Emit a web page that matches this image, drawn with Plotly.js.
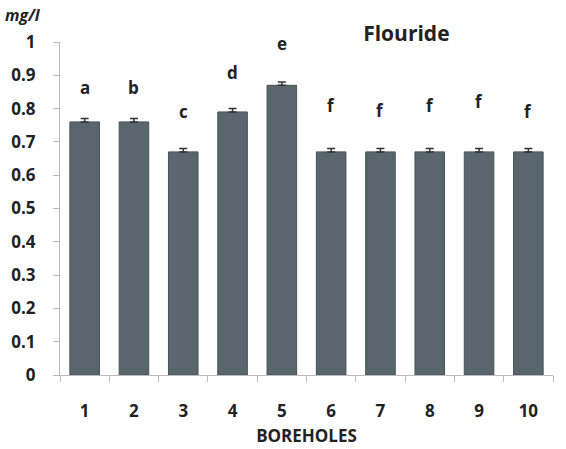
<!DOCTYPE html>
<html><head><meta charset="utf-8">
<script src="https://cdn.plot.ly/plotly-3.0.1.min.js"></script>
<style>html,body{margin:0;padding:0;background:#fff}#c{width:566px;height:449px}</style>
</head><body><div id="c"></div>
<script>
const boreholes = ["1","2","3","4","5","6","7","8","9","10"];
const fluoride = [0.76,0.76,0.67,0.79,0.87,0.67,0.67,0.67,0.67,0.67];
const errors = [0.01,0.01,0.01,0.01,0.01,0.01,0.01,0.01,0.01,0.01];
const letters = ["a","b","c","d","e","f","f","f","f","f"];
const letterY = [0.862,0.862,0.79,0.907,0.997,0.81,0.795,0.81,0.82,0.79];

const F = '"Open Sans", "Liberation Sans", sans-serif';
const ann = boreholes.map((b,i)=>({x:i,y:letterY[i],xref:'x',yref:'y',text:'<b>'+letters[i]+'</b>',showarrow:false,font:{family:F,size:17,color:'#222'}}));
ann.push({xref:'paper',yref:'paper',x:-0.075,y:1.081,xanchor:'center',yanchor:'middle',text:'<b><i>mg/l</i></b>',showarrow:false,font:{family:F,size:16,color:'#222'}});

Plotly.newPlot('c',[{
  type:'bar',x:boreholes,y:fluoride,width:0.6,
  marker:{color:'#59666d',line:{color:'#48535a',width:1}},
  error_y:{type:'data',array:errors,visible:true,color:'#333',thickness:1.5,width:4,symmetric:false},
  hoverinfo:'none'
}],{
  width:566,height:449,
  margin:{l:60,r:13,t:42,b:74},
  paper_bgcolor:'#fff',plot_bgcolor:'#fff',
  showlegend:false,
  title:{text:'<b>Flouride</b>',x:0.718,xanchor:'center',y:0.925,yanchor:'middle',font:{family:F,size:21,color:'#222'}},
  xaxis:{type:'category',range:[-0.5,9.5],tickson:'boundaries',ticks:'outside',ticklen:6,tickcolor:'#bbb',
    showline:true,linecolor:'#bbb',linewidth:1,showgrid:false,ticklabelstandoff:21,
    tickfont:{family:F,size:17,color:'#222',weight:'bold'},
    title:{text:'<b>BOREHOLES</b>',standoff:8,font:{family:F,size:17,color:'#222'}}},
  yaxis:{range:[0,1],tickvals:[0,0.1,0.2,0.3,0.4,0.5,0.6,0.7,0.8,0.9,1],
    ticktext:['0','0.1','0.2','0.3','0.4','0.5','0.6','0.7','0.8','0.9','1'],
    ticks:'outside',ticklen:6,tickcolor:'#bbb',showline:true,linecolor:'#bbb',linewidth:1,showgrid:false,zeroline:false,
    ticklabelstandoff:14,tickfont:{family:F,size:17,color:'#222',weight:'bold'}},
  annotations:ann
},{displayModeBar:false,staticPlot:true});
</script></body></html>
